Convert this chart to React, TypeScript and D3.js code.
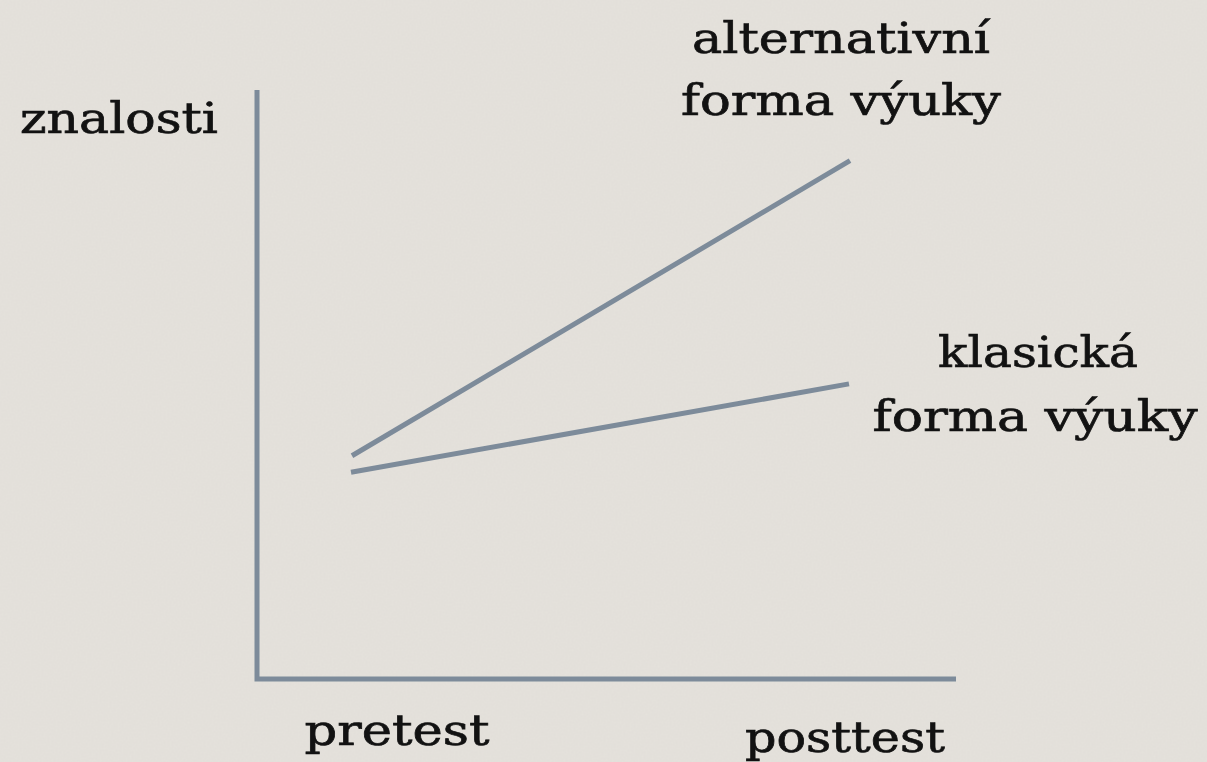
import React, { useEffect, useRef } from "react";
import * as d3 from "d3";

// sessions on the x axis, knowledge score (0-100) on the y axis
const sessions = [0, 1];
const sessionLabels = ["pretest", "posttest"];
const alternativeScores = [37.9, 88.0];
const classicScores = [35.1, 50.1];
const seriesNames = [
  ["alternativní", "forma výuky"],
  ["klasická", "forma výuky"],
];
const yLabel = "znalosti";

const W = 1207;
const H = 762;
const ink = "#121212";
const lineColor = "#7d8b9a";
const font = "'DejaVu Serif', serif";

export default function App() {
  const ref = useRef<SVGSVGElement>(null);

  useEffect(() => {
    const svg = d3.select(ref.current);
    svg.selectAll("*").remove();

    const defs = svg.append("defs");
    const f = defs.append("filter").attr("id", "paper").attr("x", 0).attr("y", 0).attr("width", 1).attr("height", 1);
    f.append("feTurbulence").attr("type", "fractalNoise").attr("baseFrequency", 0.5).attr("numOctaves", 3).attr("seed", 4).attr("result", "n");
    f.append("feColorMatrix").attr("in", "n").attr("type", "matrix")
      .attr("values", "0 0 0 0 0.55  0 0 0 0 0.54  0 0 0 0 0.52  0 0 0 0.12 0").attr("result", "c");
    f.append("feComposite").attr("in", "c").attr("in2", "SourceGraphic").attr("operator", "over");

    svg.append("rect").attr("width", W).attr("height", H).attr("fill", "#e5e2dc").attr("filter", "url(#paper)");

    const x = d3.scaleLinear().domain([0, 1]).range([352, 850]);
    const y = d3.scaleLinear().domain([0, 100]).range([679, 90]);

    // axes
    svg.append("path")
      .attr("d", `M${x(0) - 95},${y(100)}V${y(0)}H${x(1) + 106}`)
      .attr("fill", "none")
      .attr("stroke", lineColor)
      .attr("stroke-width", 5);

    const line = d3.line<number>().x((_, i) => x(sessions[i])).y((d) => y(d));
    [alternativeScores, classicScores].forEach((s, i) => {
      svg.append("path")
        .attr("d", line(s))
        .attr("fill", "none")
        .attr("stroke", lineColor)
        .attr("stroke-width", 5)
        .attr("transform", i === 1 ? "translate(-1,0)" : null);
    });

    const txt = (t: string, cx: number, cy: number, len: number) =>
      svg.append("text")
        .attr("x", cx)
        .attr("y", cy)
        .attr("text-anchor", "middle")
        .attr("font-family", font)
        .attr("font-size", 43)
        .attr("fill", ink)
        .attr("stroke", ink)
        .attr("stroke-width", 0.7)
        .attr("textLength", len)
        .attr("lengthAdjust", "spacingAndGlyphs")
        .text(t);

    txt(yLabel, 119, 133, 198);
    txt(sessionLabels[0], x(0) + 45, 745, 185);
    txt(sessionLabels[1], x(1) - 5, 752, 200);

    txt(seriesNames[0][0], 841, 53, 298);
    txt(seriesNames[0][1], 841, 115, 320);
    txt(seriesNames[1][0], 1038, 367, 200);
    txt(seriesNames[1][1], 1035, 431, 325);
  }, []);

  return (
    <svg
      ref={ref}
      width={W}
      height={H}
      style={{ position: "fixed", left: 0, top: 0, display: "block" }}
    />
  );
}
